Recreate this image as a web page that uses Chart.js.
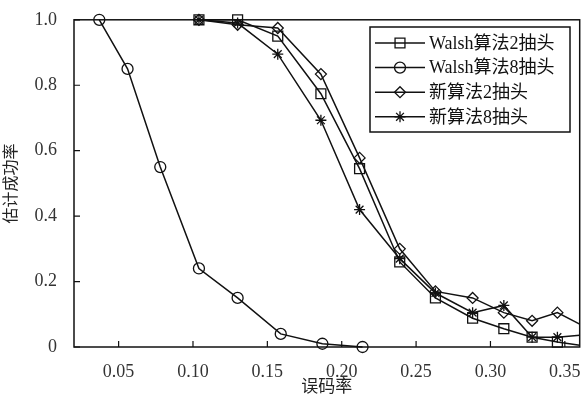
<!DOCTYPE html>
<html>
<head>
<meta charset="utf-8">
<script src="https://cdn.jsdelivr.net/npm/chart.js@4.4.1/dist/chart.umd.min.js"></script>
<style>
  html, body { margin: 0; padding: 0; background: #fff; }
  #wrap { width: 588px; height: 399px; }
</style>
</head>
<body>
<div id="wrap"><canvas id="chart"></canvas></div>
<script>
// error rate values (x) and estimated success rates (y)
const walsh8X = [0.037, 0.056, 0.078, 0.104, 0.13, 0.159, 0.187, 0.214];
const walsh8Y = [1.0, 0.85, 0.55, 0.24, 0.15, 0.04, 0.01, 0.0];

const berX = [0.104, 0.13, 0.157, 0.186, 0.212, 0.239, 0.263, 0.288, 0.309, 0.328, 0.345, 0.36];
const walsh2Y = [1.0, 1.0, 0.95, 0.774, 0.545, 0.26, 0.15, 0.088, 0.056, 0.03, 0.015, 0.005];
const newAlg2Y = [1.0, 0.985, 0.975, 0.834, 0.578, 0.30, 0.17, 0.15, 0.105, 0.08, 0.105, 0.07];
const newAlg8Y = [1.0, 0.99, 0.895, 0.693, 0.42, 0.27, 0.165, 0.105, 0.127, 0.03, 0.03, 0.036];

const seriesNames = ["Walsh算法2抽头", "Walsh算法8抽头", "新算法2抽头", "新算法8抽头"];
const xTicks = [0.05, 0.10, 0.15, 0.20, 0.25, 0.30, 0.35];
const yTicks = [0, 0.2, 0.4, 0.6, 0.8, 1.0];

const serif = "'Liberation Serif', 'Noto Sans CJK SC', serif";
const toPoints = (xs, ys) => xs.map((x, i) => ({ x: x, y: ys[i] }));

const styles = [
  { pointStyle: "rect", radius: 7 },
  { pointStyle: "circle", radius: 5.5 },
  { pointStyle: "rectRot", radius: 5.5 },
  { pointStyle: "star", radius: 5.5 },
];

function makeSet(label, data, st) {
  const last = data.length - 1;
  return {
    label: label,
    data: data,
    borderColor: "#111",
    backgroundColor: "rgba(0,0,0,0)",
    borderWidth: 1.5,
    pointStyle: st.pointStyle,
    pointRadius: (c) => (c.dataIndex === last && data[last].x >= 0.36 ? 0 : st.radius),
    pointBorderWidth: 1.3,
    pointBorderColor: "#111",
    pointBackgroundColor: "rgba(0,0,0,0)",
    tension: 0,
    clip: false,
  };
}

// frame, inward ticks and boxed legend
const decorations = {
  id: "decorations",
  afterDatasetsDraw(chart) {
    const { ctx, chartArea: a, scales } = chart;
    ctx.save();
    ctx.strokeStyle = "#111";
    ctx.lineWidth = 1.5;
    ctx.strokeRect(a.left, a.top, a.right - a.left, a.bottom - a.top);
    ctx.lineWidth = 1.2;
    ctx.beginPath();
    xTicks.forEach((v) => {
      const px = scales.x.getPixelForValue(v);
      ctx.moveTo(px, a.bottom);
      ctx.lineTo(px, a.bottom - 6);
    });
    yTicks.forEach((v) => {
      const py = scales.y.getPixelForValue(v);
      ctx.moveTo(a.left, py);
      ctx.lineTo(a.left + 6, py);
    });
    ctx.stroke();

    // legend
    const bx = 370, by = 27, bw = 200, bh = 105;
    ctx.fillStyle = "#fff";
    ctx.fillRect(bx, by, bw, bh);
    ctx.lineWidth = 1.5;
    ctx.strokeRect(bx, by, bw, bh);
    ctx.font = "18px " + serif;
    ctx.textBaseline = "middle";
    chart.data.datasets.forEach((ds, i) => {
      const y = by + 16 + i * 24.6;
      ctx.lineWidth = 1.5;
      ctx.beginPath();
      ctx.moveTo(bx + 5, y);
      ctx.lineTo(bx + 55, y);
      ctx.stroke();
      ctx.lineWidth = 1.3;
      ctx.fillStyle = "rgba(0,0,0,0)";
      Chart.helpers.drawPoint(ctx, {
        pointStyle: styles[i].pointStyle,
        rotation: 0,
        radius: styles[i].radius,
        borderWidth: 1.3,
      }, bx + 30, y);
      ctx.fillStyle = "#111";
      ctx.fillText(ds.label, bx + 59, y + 1);
    });
    ctx.restore();
  },
};

new Chart(document.getElementById("chart"), {
  type: "line",
  data: {
    datasets: [
      makeSet(seriesNames[0], toPoints(berX, walsh2Y), styles[0]),
      makeSet(seriesNames[1], toPoints(walsh8X, walsh8Y), styles[1]),
      makeSet(seriesNames[2], toPoints(berX, newAlg2Y), styles[2]),
      makeSet(seriesNames[3], toPoints(berX, newAlg8Y), styles[3]),
    ],
  },
  options: {
    responsive: true,
    maintainAspectRatio: false,
    animation: false,
    layout: { padding: { left: 0, right: 8, top: 15, bottom: 0 } },
    plugins: { legend: { display: false }, tooltip: { enabled: false } },
    scales: {
      x: {
        type: "linear",
        min: 0.02,
        max: 0.36,
        afterBuildTicks: (s) => { s.ticks = xTicks.map((v) => ({ value: v })); },
        afterFit: (s) => { s.height = 52; },
        grid: { display: false },
        border: { display: false },
        ticks: {
          padding: 6,
          color: "#333",
          font: { family: serif, size: 18 },
          callback: (v) => v.toFixed(2),
        },
        title: {
          display: true,
          text: "误码率",
          color: "#222",
          font: { family: "'Noto Sans CJK SC', sans-serif", size: 17 },
          padding: { top: 0, bottom: 3 },
        },
      },
      y: {
        min: 0,
        max: 1.0,
        afterBuildTicks: (s) => { s.ticks = yTicks.map((v) => ({ value: v })); },
        afterFit: (s) => { s.width = 74; },
        grid: { display: false },
        border: { display: false },
        ticks: {
          padding: 9,
          color: "#333",
          font: { family: serif, size: 18 },
          callback: (v) => (v === 0 ? "0" : v.toFixed(1)),
        },
        title: {
          display: true,
          text: "估计成功率",
          color: "#222",
          font: { family: "'Noto Sans CJK SC', sans-serif", size: 16 },
          padding: { top: 0, bottom: 4 },
        },
      },
    },
  },
  plugins: [decorations],
});
</script>
</body>
</html>
